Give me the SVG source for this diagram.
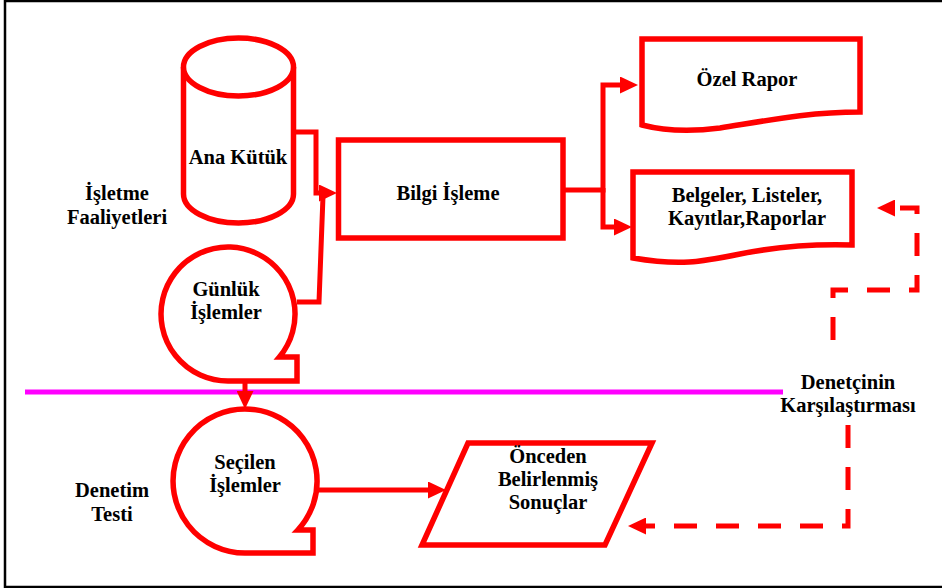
<svg xmlns="http://www.w3.org/2000/svg" width="942" height="588" viewBox="0 0 942 588">
  <style>
    .shape { fill: #fff; stroke: #ff0000; stroke-width: 5.5; stroke-linejoin: miter; }
    .wire { fill: none; stroke: #ff0000; stroke-width: 5; }
    .dash { fill: none; stroke: #ff0000; stroke-width: 5; stroke-dasharray: 23 19; }
    .lbl { font-family: "Liberation Serif", "DejaVu Serif", serif; font-weight: bold; font-size: 20.5px; fill: #000; text-anchor: middle; }
  </style>
  <defs>
    <marker id="arrow" viewBox="0 0 18 17" refX="8" refY="8.5" markerWidth="18" markerHeight="17" markerUnits="userSpaceOnUse" orient="auto">
      <path d="M0,0 L18,8.5 L0,17 Z" fill="#ff0000"/>
    </marker>
  </defs>

  <rect width="942" height="588" fill="#fff"/>
  <!-- outer frame (left, top, bottom) -->
  <path d="M942,1 H5 V587 H942" fill="none" stroke="#000" stroke-width="2.5"/>

  <!-- separator between operations and audit test -->
  <line x1="25" y1="392" x2="783" y2="392" stroke="#ff00ff" stroke-width="5"/>

  <g id="connectors">
    <path class="wire" d="M294,132 H316 V193 H327" marker-end="url(#arrow)"/>
    <path class="wire" d="M297,302 H319 L323,196"/>
    <path class="wire" d="M563,190 H603 V85 H628" marker-end="url(#arrow)"/>
    <path class="wire" d="M603,188 V227 H622" marker-end="url(#arrow)"/>
    <path class="wire" d="M245,381 V399" marker-end="url(#arrow)"/>
    <path class="wire" d="M317,490 H436" marker-end="url(#arrow)"/>
    <path class="dash" d="M833,340 V290 H917 V208 H887" marker-end="url(#arrow)"/>
    <path class="dash" d="M848,425 V526 H638" marker-end="url(#arrow)"/>
  </g>

  <g id="ana-kutuk">
    <path class="shape" d="M183.5,67 V194 A55,29 0 0 0 293.5,194 V67"/>
    <ellipse class="shape" cx="238.5" cy="67" rx="55" ry="29"/>
    <text class="lbl" x="238" y="164">Ana Kütük</text>
  </g>

  <g id="gunluk-islemler">
    <path class="shape" d="M279.4,357 A67,67 0 1 0 228,381 H297 V357 Z"/>
    <text class="lbl" x="226" y="296">Günlük</text>
    <text class="lbl" x="226" y="319">İşlemler</text>
  </g>

  <g id="bilgi-isleme">
    <rect class="shape" x="338.5" y="140" width="224.5" height="98"/>
    <text class="lbl" x="448" y="200">Bilgi İşleme</text>
  </g>

  <g id="ozel-rapor">
    <path class="shape" d="M642,125 V39 H860 V112 C810,112 770,120 720,128 C690,132 665,131 642,125 Z"/>
    <text class="lbl" x="747" y="86">Özel Rapor</text>
  </g>

  <g id="belgeler">
    <path class="shape" d="M633,258 V172 H852 V245 C820,244 780,246 740,254 C700,262 680,266 633,258 Z"/>
    <text class="lbl" x="747" y="202">Belgeler, Listeler,</text>
    <text class="lbl" x="747" y="225">Kayıtlar,Raporlar</text>
  </g>

  <g id="isletme-faaliyetleri">
    <text class="lbl" x="117" y="200">İşletme</text>
    <text class="lbl" x="117" y="224">Faaliyetleri</text>
  </g>

  <g id="secilen-islemler">
    <path class="shape" d="M297.8,530 A72,72 0 1 0 245,553 H313 V530 Z"/>
    <text class="lbl" x="245" y="469">Seçilen</text>
    <text class="lbl" x="245" y="492">İşlemler</text>
  </g>

  <g id="onceden-belirlenmis">
    <path class="shape" d="M468,443 H652 L605,545 H422 Z"/>
    <text class="lbl" x="548" y="463">Önceden</text>
    <text class="lbl" x="548" y="486">Belirlenmiş</text>
    <text class="lbl" x="548" y="509">Sonuçlar</text>
  </g>

  <g id="denetim-testi">
    <text class="lbl" x="112" y="497">Denetim</text>
    <text class="lbl" x="112" y="521">Testi</text>
  </g>

  <g id="denetci-karsilastirma">
    <text class="lbl" x="848" y="389">Denetçinin</text>
    <text class="lbl" x="848" y="412">Karşılaştırması</text>
  </g>
</svg>
